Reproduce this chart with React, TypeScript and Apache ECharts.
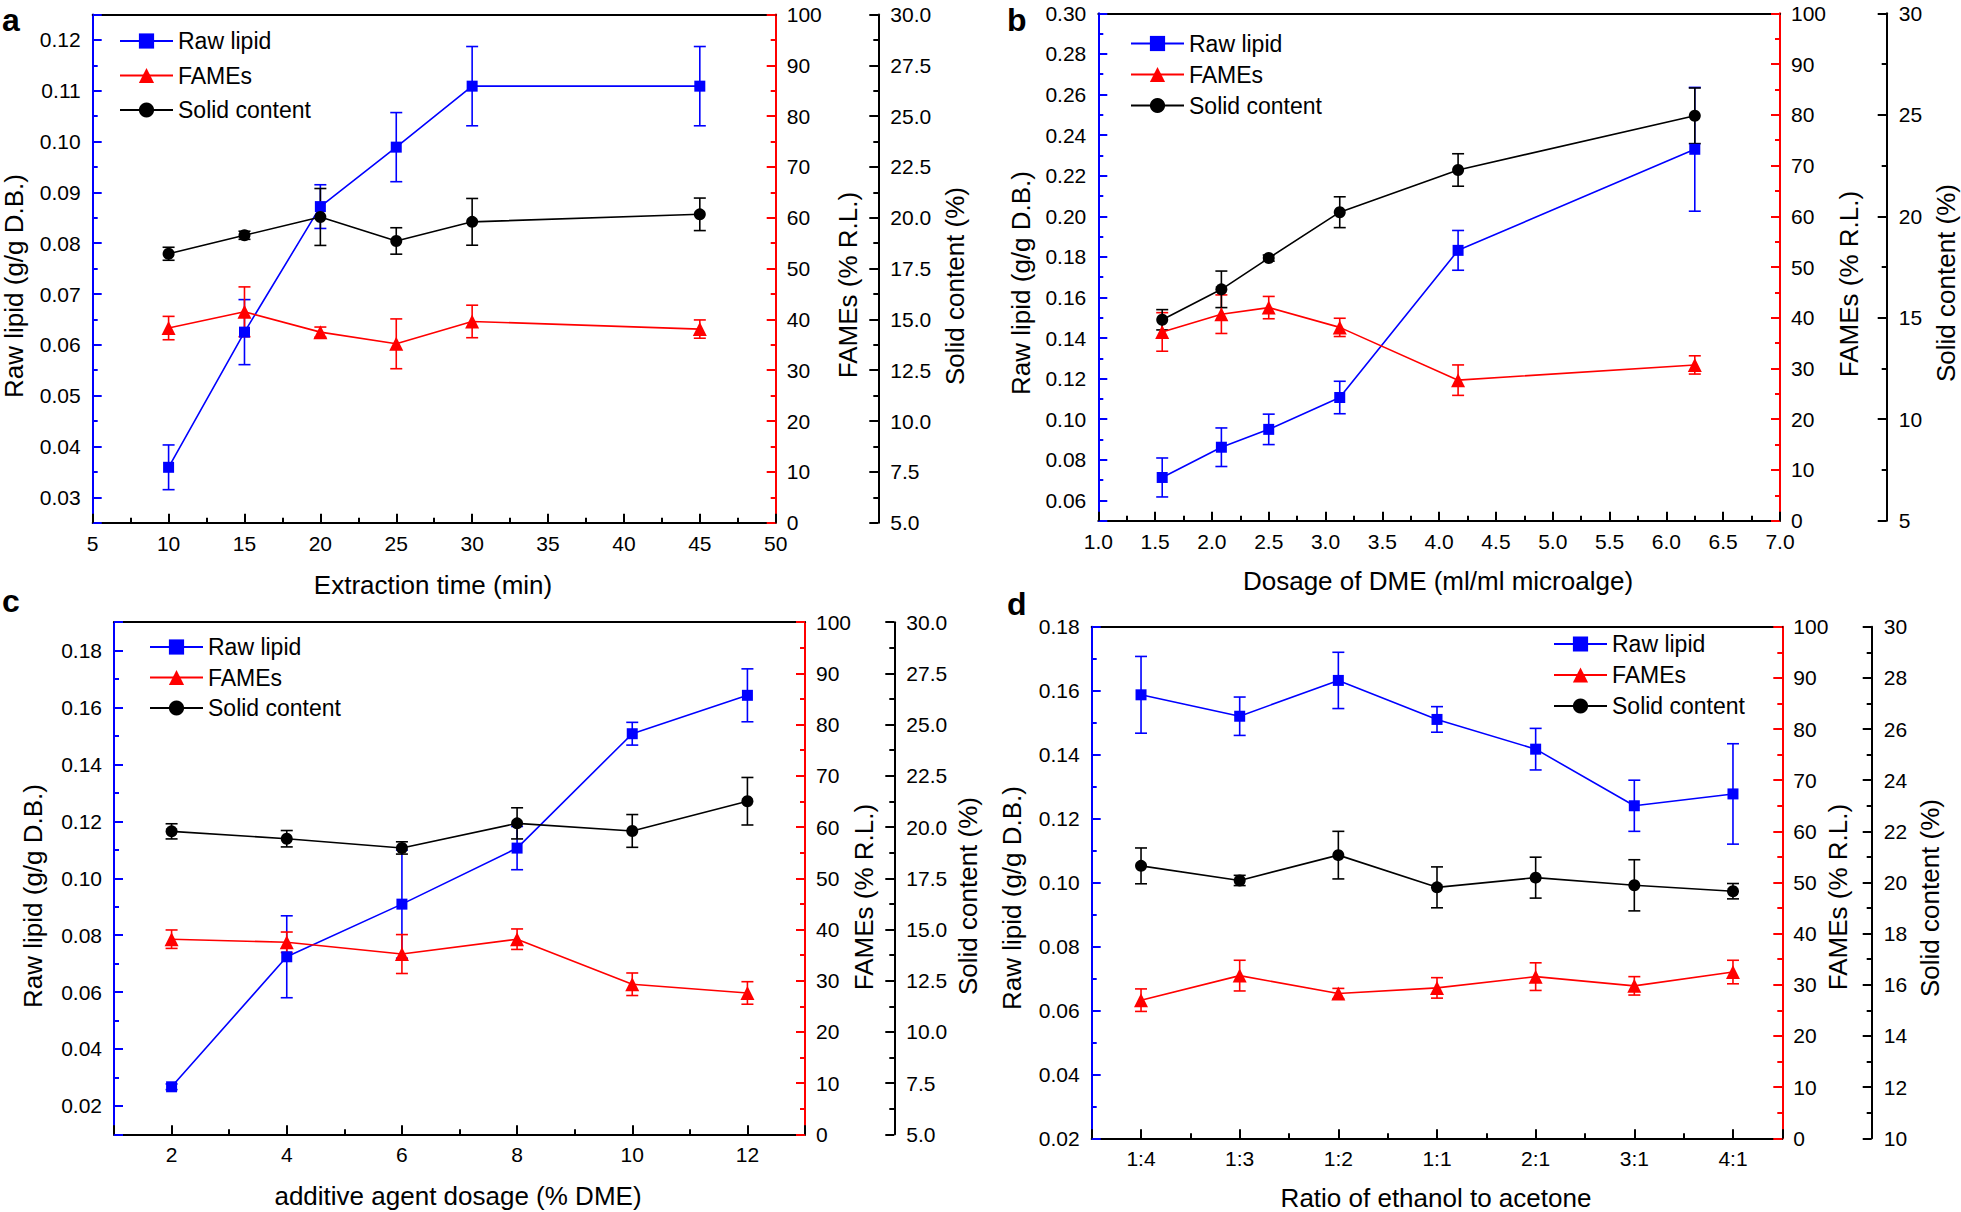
import React, { useEffect, useRef } from 'react';
import * as echarts from 'echarts';

const FONT = "'Liberation Sans', Arial, Helvetica, sans-serif";
const BLUE = '#0000FF';
const RED = '#FF0000';
const BLACK = '#000000';

const seriesNames = ['Raw lipid', 'FAMEs', 'Solid content'];

// Panel a: extraction time
const aX = [10, 15, 20, 25, 30, 45];
const aLipid = [0.0359, 0.0625, 0.0872, 0.0989, 0.1109, 0.1109];
const aLipidErr = [0.0044, 0.0064, 0.0043, 0.0068, 0.0078, 0.0078];
const aFames = [38.3, 41.5, 37.5, 35.2, 39.6, 38.1];
const aFamesErr = [2.3, 4.9, 1.0, 4.9, 3.2, 1.8];
const aSolid = [18.23, 19.14, 20.04, 18.86, 19.8, 20.17];
const aSolidErr = [0.32, 0.2, 1.4, 0.65, 1.15, 0.8];

// Panel b: dosage of DME
const bX = [1.5625, 2.0833, 2.5, 3.125, 4.1667, 6.25];
const bLipid = [0.0713, 0.0862, 0.095, 0.1107, 0.1832, 0.233];
const bLipidErr = [0.0096, 0.0095, 0.0075, 0.008, 0.0098, 0.0305];
const bFames = [37.2, 40.7, 42.0, 38.1, 27.7, 30.7];
const bFamesErr = [3.8, 3.8, 2.2, 1.8, 3.0, 1.8];
const bSolid = [14.9, 16.4, 17.94, 20.2, 22.28, 24.95];
const bSolidErr = [0.5, 0.9, 0.15, 0.76, 0.8, 1.37];

// Panel c: additive agent dosage
const cX = [2, 4, 6, 8, 10, 12];
const cLipid = [0.0267, 0.0724, 0.0909, 0.1106, 0.1508, 0.1643];
const cLipidErr = [0.001, 0.0144, 0.019, 0.0076, 0.004, 0.0093];
const cFames = [38.1, 37.5, 35.2, 38.1, 29.3, 27.6];
const cFamesErr = [1.8, 2.0, 3.8, 2.0, 2.2, 2.2];
const cSolid = [19.79, 19.43, 18.98, 20.18, 19.81, 21.26];
const cSolidErr = [0.37, 0.4, 0.3, 0.76, 0.8, 1.16];

// Panel d: ratio of ethanol to acetone
const dCats = ['1:4', '1:3', '1:2', '1:1', '2:1', '3:1', '4:1'];
const dX = [1, 2, 3, 4, 5, 6, 7];
const dLipid = [0.1587, 0.152, 0.1632, 0.151, 0.1417, 0.124, 0.1277];
const dLipidErr = [0.012, 0.006, 0.0088, 0.004, 0.0065, 0.008, 0.0157];
const dFames = [27.0, 31.8, 28.3, 29.4, 31.6, 29.8, 32.5];
const dFamesErr = [2.2, 3.0, 1.0, 2.0, 2.7, 1.8, 2.3];
const dSolid = [20.65, 20.08, 21.07, 19.81, 20.19, 19.89, 19.66];
const dSolidErr = [0.7, 0.2, 0.93, 0.8, 0.8, 1.0, 0.3];

const isMajor = (v: number, step: number) => Math.abs(v / step - Math.round(v / step)) < 1e-6;

type AxisSpec = { min: number; max: number; step: number; fmt: (v: number) => string };

const panels = [
  {
    letter: 'a', letterPos: [2, 20],
    grid: { left: 92.7, top: 14.5, width: 683, height: 508.2 },
    solidOffset: 102.6,
    x: { min: 5, max: 50, step: 5, fmt: (v: number) => String(Math.round(v)) } as AxisSpec,
    left: { min: 0.025, max: 0.125, step: 0.01, fmt: (v: number) => v.toFixed(2) } as AxisSpec,
    solid: { min: 5, max: 30, step: 2.5, fmt: (v: number) => v.toFixed(1) } as AxisSpec,
    xs: aX, lipid: aLipid, lipidErr: aLipidErr, fames: aFames, famesErr: aFamesErr, solid_: aSolid, solidErr: aSolidErr,
    legend: { left: 119, top: 29.5, itemGap: 11.5 },
    xTitle: 'Extraction time (min)',
    titles: { left: [14, 286], red: [848, 285], solid: [955, 286], x: [433, 585] },
  },
  {
    letter: 'b', letterPos: [1007, 20],
    grid: { left: 1098.3, top: 13.3, width: 681.7, height: 507.4 },
    solidOffset: 106.7,
    x: { min: 1, max: 7, step: 0.5, fmt: (v: number) => v.toFixed(1) } as AxisSpec,
    left: { min: 0.05, max: 0.3, step: 0.02, fmt: (v: number) => v.toFixed(2) } as AxisSpec,
    solid: { min: 5, max: 30, step: 5, fmt: (v: number) => String(Math.round(v)) } as AxisSpec,
    xs: bX, lipid: bLipid, lipidErr: bLipidErr, fames: bFames, famesErr: bFamesErr, solid_: bSolid, solidErr: bSolidErr,
    legend: { left: 1130, top: 32, itemGap: 8 },
    xTitle: 'Dosage of DME (ml/ml microalge)',
    titles: { left: [1021, 283], red: [1849, 284], solid: [1946, 283], x: [1438, 581] },
  },
  {
    letter: 'c', letterPos: [2, 601],
    grid: { left: 114, top: 622.2, width: 691, height: 512.1 },
    solidOffset: 89.3,
    x: { min: 1, max: 13, step: 2, fmt: (v: number) => String(Math.round(v)) } as AxisSpec,
    left: { min: 0.01, max: 0.19, step: 0.02, fmt: (v: number) => v.toFixed(2) } as AxisSpec,
    solid: { min: 5, max: 30, step: 2.5, fmt: (v: number) => v.toFixed(1) } as AxisSpec,
    xs: cX, lipid: cLipid, lipidErr: cLipidErr, fames: cFames, famesErr: cFamesErr, solid_: cSolid, solidErr: cSolidErr,
    legend: { left: 149, top: 635.5, itemGap: 7.5 },
    xTitle: 'additive agent dosage (% DME)',
    titles: { left: [33, 896], red: [864, 897], solid: [968, 896], x: [458, 1196] },
  },
  {
    letter: 'd', letterPos: [1007, 604],
    grid: { left: 1091.7, top: 626.7, width: 690.6, height: 511.6 },
    solidOffset: 89.4,
    x: { min: 0.5, max: 7.5, step: 1, fmt: (v: number) => dCats[Math.round(v) - 1] || '' } as AxisSpec,
    left: { min: 0.02, max: 0.18, step: 0.02, fmt: (v: number) => v.toFixed(2) } as AxisSpec,
    solid: { min: 10, max: 30, step: 2, fmt: (v: number) => String(Math.round(v)) } as AxisSpec,
    xs: dX, lipid: dLipid, lipidErr: dLipidErr, fames: dFames, famesErr: dFamesErr, solid_: dSolid, solidErr: dSolidErr,
    legend: { left: 1553, top: 632.5, itemGap: 8 },
    xTitle: 'Ratio of ethanol to acetone',
    titles: { left: [1012, 898], red: [1838, 897], solid: [1930, 898], x: [1436, 1198] },
  },
];

const redSpec: AxisSpec = { min: 0, max: 100, step: 10, fmt: (v: number) => String(Math.round(v)) };

function valueAxis(spec: AxisSpec, color: string, margin: number, extra: any) {
  const useInterval = isMajor(spec.min, spec.step);
  return {
    type: 'value',
    min: spec.min,
    max: spec.max,
    ...(useInterval
      ? { interval: spec.step }
      : { splitNumber: Math.round((spec.max - spec.min) / spec.step), minInterval: spec.step, maxInterval: spec.step }),
    axisLine: { show: true, onZero: false, lineStyle: { color, width: 2 } },
    axisTick: { show: true, inside: true, length: 9, lineStyle: { color, width: 2 } },
    minorTick: { show: true, splitNumber: 2, length: 5, lineStyle: { color, width: 2 } },
    splitLine: { show: false },
    minorSplitLine: { show: false },
    axisLabel: {
      show: true,
      margin,
      color: BLACK,
      fontSize: 21,
      fontFamily: FONT,
      formatter: (v: number) => (isMajor(v, spec.step) ? spec.fmt(v) : ''),
    },
    ...extra,
  };
}

function errorSeries(xs: number[], ys: number[], es: number[], color: string, xi: number, yi: number) {
  return {
    type: 'custom',
    xAxisIndex: xi,
    yAxisIndex: yi,
    z: 1,
    silent: true,
    data: xs.map((x, i) => [x, ys[i], es[i]]),
    encode: { x: 0, y: 1 },
    renderItem: (params: any, api: any) => {
      const x = api.value(0);
      const y = api.value(1);
      const e = api.value(2);
      const top = api.coord([x, y + e]);
      const bot = api.coord([x, y - e]);
      const w = 6;
      const style = { stroke: color, lineWidth: 1.6 };
      return {
        type: 'group',
        children: [
          { type: 'line', shape: { x1: top[0], y1: top[1], x2: bot[0], y2: bot[1] }, style },
          { type: 'line', shape: { x1: top[0] - w, y1: top[1], x2: top[0] + w, y2: top[1] }, style },
          { type: 'line', shape: { x1: bot[0] - w, y1: bot[1], x2: bot[0] + w, y2: bot[1] }, style },
        ],
      };
    },
  };
}

function buildOption() {
  const grid: any[] = [];
  const xAxis: any[] = [];
  const yAxis: any[] = [];
  const series: any[] = [];
  const legend: any[] = [];
  const graphic: any[] = [];

  panels.forEach((p, g) => {
    grid.push({ ...p.grid, containLabel: false });
    const xi = xAxis.length;
    xAxis.push(valueAxis(p.x, BLACK, 10, { gridIndex: g, position: 'bottom' }));
    xAxis.push({
      type: 'value', gridIndex: g, position: 'top', min: p.x.min, max: p.x.max,
      axisLine: { show: true, onZero: false, lineStyle: { color: BLACK, width: 2 } },
      axisTick: { show: false }, axisLabel: { show: false }, splitLine: { show: false },
    });
    const yi = yAxis.length;
    yAxis.push(valueAxis(p.left, BLUE, 12, { gridIndex: g, position: 'left' }));
    yAxis.push(valueAxis(redSpec, RED, 11, { gridIndex: g, position: 'right', offset: 0 }));
    yAxis.push(valueAxis(p.solid, BLACK, 12, { gridIndex: g, position: 'right', offset: p.solidOffset }));

    const mk = (name: string, ys: number[], color: string, symbol: string, size: number, yIdx: number) => ({
      type: 'line', name, xAxisIndex: xi, yAxisIndex: yIdx, z: 3,
      data: p.xs.map((x, i) => [x, ys[i]]),
      symbol, symbolSize: size, showSymbol: true,
      itemStyle: { color },
      lineStyle: { color, width: 1.6 },
    });
    series.push(errorSeries(p.xs, p.lipid, p.lipidErr, BLUE, xi, yi));
    series.push(errorSeries(p.xs, p.fames, p.famesErr, RED, xi, yi + 1));
    series.push(errorSeries(p.xs, p.solid_, p.solidErr, BLACK, xi, yi + 2));
    series.push(mk(seriesNames[0], p.lipid, BLUE, 'rect', 11, yi));
    series.push(mk(seriesNames[1], p.fames, RED, 'triangle', 14, yi + 1));
    series.push(mk(seriesNames[2], p.solid_, BLACK, 'circle', 12, yi + 2));

    legend.push({
      show: true, orient: 'vertical', left: p.legend.left, top: p.legend.top, itemGap: p.legend.itemGap,
      itemWidth: 53, itemHeight: 19, selectedMode: false, padding: 0,
      textStyle: { fontSize: 23, fontFamily: FONT, color: BLACK },
      data: seriesNames,
    });

    graphic.push({
      type: 'text', x: p.letterPos[0], y: p.letterPos[1],
      style: { text: p.letter, fontSize: 32, fontWeight: 'bold', fontFamily: FONT, fill: BLACK, align: 'left', verticalAlign: 'middle' },
    });
    const vt = (txt: string, pos: number[]) => ({
      type: 'text', x: pos[0], y: pos[1], rotation: Math.PI / 2,
      style: { text: txt, fontSize: 26, fontFamily: FONT, fill: BLACK, align: 'center', verticalAlign: 'middle' },
    });
    graphic.push(vt('Raw lipid (g/g D.B.)', p.titles.left));
    graphic.push(vt('FAMEs (% R.L.)', p.titles.red));
    graphic.push(vt('Solid content (%)', p.titles.solid));
    graphic.push({
      type: 'text', x: p.titles.x[0], y: p.titles.x[1],
      style: { text: p.xTitle, fontSize: 26, fontFamily: FONT, fill: BLACK, align: 'center', verticalAlign: 'middle' },
    });
  });

  return {
    animation: false,
    backgroundColor: '#ffffff',
    textStyle: { fontFamily: FONT },
    grid, xAxis, yAxis, series, legend, graphic,
  };
}

export default function App() {
  const ref = useRef<HTMLDivElement>(null);
  useEffect(() => {
    if (!ref.current) return;
    const chart = echarts.init(ref.current, null, { renderer: 'svg', width: 1961, height: 1212 });
    chart.setOption(buildOption() as any);
    return () => chart.dispose();
  }, []);
  return (
    <div
      ref={ref}
      style={{ position: 'fixed', left: 0, top: 0, width: 1961, height: 1212, background: '#fff' }}
    />
  );
}
